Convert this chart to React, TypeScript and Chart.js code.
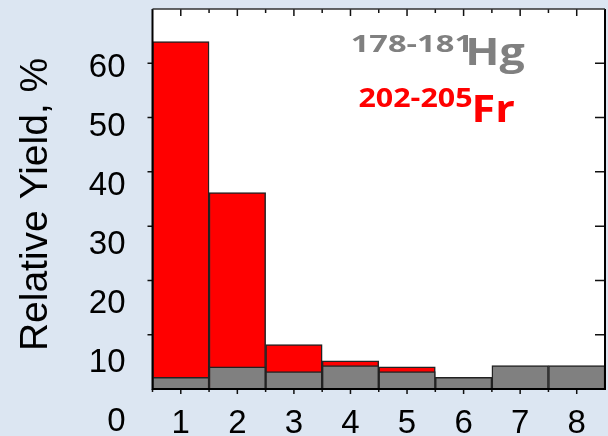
import React, { useEffect, useRef } from "react";
import { Chart, registerables } from "chart.js";

Chart.register(...registerables);

const bins = ["1", "2", "3", "4", "5", "6", "7", "8"];
const frYield = [64, 36.2, 8.2, 5.2, 4.1, 0, 0, 0];
const hgYield = [2.15, 4.1, 3.2, 4.3, 3.2, 2.15, 4.3, 4.3];
const yTickLabels = [0, 10, 20, 30, 40, 50, 60];
const yTickMarks = [10, 20, 30, 40, 50, 60];

const FONT = '"Liberation Sans", Arial, sans-serif';

function fitText(ctx: CanvasRenderingContext2D, text: string, x: number, baseline: number, size: number, width: number, color: string) {
  ctx.save();
  ctx.font = `bold ${size}px "Open Sans", sans-serif`;
  ctx.fillStyle = color;
  ctx.textBaseline = "alphabetic";
  ctx.textAlign = "left";
  const m = ctx.measureText(text);
  const left = m.actualBoundingBoxLeft || 0;
  const w = (m.actualBoundingBoxRight || m.width) + left;
  const sx = width / w;
  ctx.translate(x, baseline);
  ctx.scale(sx, 1);
  ctx.fillText(text, left, 0);
  ctx.restore();
}

const framePlugin = {
  id: "frame",
  beforeDraw(chart: any) {
    const { ctx, chartArea: a, width, height } = chart;
    ctx.save();
    ctx.fillStyle = "#dce6f2";
    ctx.fillRect(0, 0, width, height);
    ctx.fillStyle = "#ffffff";
    ctx.fillRect(a.left, a.top, a.right - a.left, a.bottom - a.top);
    ctx.restore();
  },
  afterDatasetsDraw(chart: any) {
    const { ctx, chartArea: a } = chart;
    const xs = chart.scales.x;
    const yb = chart.scales.yb;
    ctx.save();
    ctx.strokeStyle = "#111";
    ctx.lineWidth = 1.5;
    const half = (xs.getPixelForValue(1) - xs.getPixelForValue(0)) / 2;
    ctx.beginPath();
    bins.forEach((_, i) => {
      const c = xs.getPixelForValue(i);
      ctx.moveTo(c, a.top);
      ctx.lineTo(c, a.top + 7);
      ctx.moveTo(c + half, a.top);
      ctx.lineTo(c + half, a.top + 4);
      ctx.moveTo(c, a.bottom);
      ctx.lineTo(c, a.bottom + 5);
      ctx.moveTo(c - half, a.bottom);
      ctx.lineTo(c - half, a.bottom + 3);
    });
    yTickMarks.forEach((v) => {
      const p = yb.getPixelForValue(v);
      ctx.moveTo(a.left, p);
      ctx.lineTo(a.left - 5, p);
      ctx.moveTo(a.right, p);
      ctx.lineTo(a.right - 10, p);
    });
    ctx.stroke();
    ctx.lineWidth = 2;
    ctx.strokeStyle = "#000";
    ctx.beginPath();
    ctx.moveTo(a.left, a.top);
    ctx.lineTo(a.left, a.bottom);
    ctx.lineTo(a.right, a.bottom);
    ctx.lineTo(a.right, a.top);
    ctx.stroke();
    ctx.lineWidth = 1.5;
    ctx.strokeStyle = "#333";
    ctx.beginPath();
    ctx.moveTo(a.left, a.top);
    ctx.lineTo(a.right, a.top);
    ctx.stroke();
    ctx.restore();
  },
  afterDraw(chart: any) {
    const { ctx } = chart;
    fitText(ctx, "178-181", 352, 52, 24, 116, "#808080");
    fitText(ctx, "Hg", 469, 64.5, 37, 56, "#808080");
    fitText(ctx, "202-205", 358.5, 107, 26, 113, "#ff0000");
    fitText(ctx, "Fr", 475, 121.5, 37, 40, "#ff0000");
  },
};

export default function App() {
  const ref = useRef<HTMLCanvasElement | null>(null);
  useEffect(() => {
    document.body.style.margin = "0";
    const canvas = ref.current!;
    const chart = new Chart(canvas, {
      type: "bar",
      data: {
        labels: bins,
        datasets: [
          {
            label: "178-181Hg",
            data: hgYield,
            backgroundColor: "#808080",
            borderColor: "#222",
            borderWidth: 1.5,
            grouped: false,
            yAxisID: "yb",
            barPercentage: 1,
            categoryPercentage: 1,
          } as any,
          {
            label: "202-205Fr",
            data: frYield,
            backgroundColor: "#ff0000",
            borderColor: "#222",
            borderWidth: 1.5,
            grouped: false,
            yAxisID: "yb",
            barPercentage: 1,
            categoryPercentage: 1,
          } as any,
        ],
      },
      options: {
        animation: false,
        responsive: false,
        layout: { padding: { top: 9, right: 3, left: 0, bottom: 0 } },
        plugins: { legend: { display: false }, tooltip: { enabled: false } },
        scales: {
          x: {
            type: "category",
            offset: true,
            grid: { display: false, drawTicks: false },
            border: { display: false },
            ticks: { color: "#000", padding: 15, font: { family: FONT, size: 33 } },
            afterFit: (s: any) => {
              s.height = 47;
              s.paddingLeft = 0;
              s.paddingRight = 0;
            },
          },
          y: {
            type: "linear",
            position: "left",
            min: 5.5,
            max: 69.9,
            afterBuildTicks: (s: any) => {
              s.ticks = yTickLabels.map((v) => ({ value: v }));
            },
            grid: { display: false, drawTicks: false },
            border: { display: false },
            ticks: { autoSkip: false, color: "#000", padding: 27, font: { family: FONT, size: 33 } },
            title: {
              display: true,
              text: "Relative Yield, % ",
              color: "#000",
              font: { family: FONT, size: 39 },
              padding: { top: 13, bottom: 0 },
            },
            afterFit: (s: any) => {
              s.width = 152.5;
              s.paddingTop = 0;
              s.paddingBottom = 0;
            },
          },
          yb: {
            type: "linear",
            display: false,
            min: 0,
            max: 70,
          },
        },
      } as any,
      plugins: [framePlugin],
    });
    return () => chart.destroy();
  }, []);
  return (
    <div style={{ width: 608, height: 436 }}>
      <canvas ref={ref} width={608} height={436} />
    </div>
  );
}
